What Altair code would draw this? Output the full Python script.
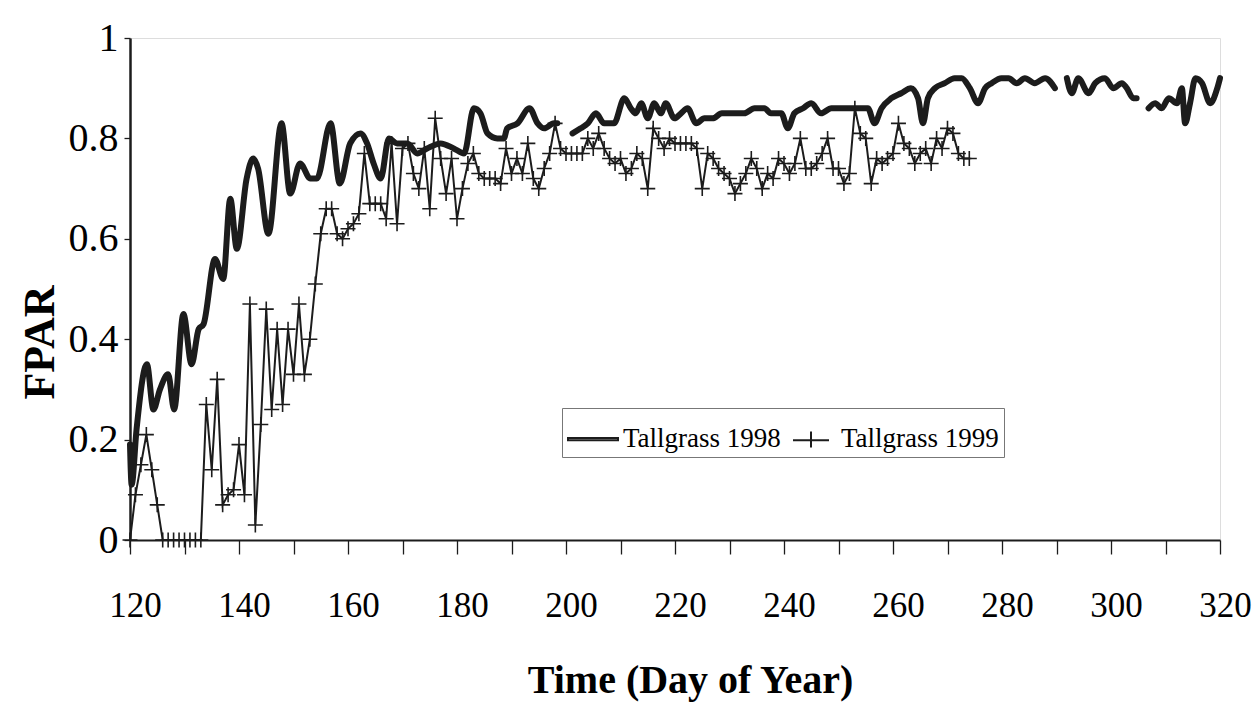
import altair as alt
import pandas as pd

# ---------------- data ----------------
days_1998 = [120.0, 120.3, 121.2, 123.1, 124.3, 125.5, 127.0, 128.1, 129.8, 131.3,
             132.6, 133.5, 135.6, 137.1, 138.4, 139.6, 141.4, 142.6, 143.5, 145.4,
             147.8, 149.4, 151.2, 153.1, 154.3, 156.8, 158.5, 160.4, 162.3, 163.5,
             164.7, 166.0, 167.5, 169.0, 170.9, 172.7, 174.5, 177.0, 179.4, 181.3,
             183.1, 184.3, 185.6, 187.4, 188.6, 189.2, 191.1, 193.3, 194.8, 196.0,
             197.8, 198.4,
             201.2, 202.7, 204.0, 205.5, 207.0, 208.8, 210.7, 211.9, 212.8, 213.8,
             215.0, 216.2, 217.4, 218.3, 219.9, 221.1, 222.3, 223.9, 225.4, 226.9,
             228.6, 231.5, 232.7, 234.6, 236.4, 237.6, 239.5, 240.7, 241.9, 243.5,
             245.0, 246.8, 248.7, 250.5, 252.4, 254.8, 255.4, 256.6, 257.9, 259.7,
             261.5, 263.3, 264.6, 265.5, 266.4, 267.7, 269.5, 271.3, 272.6, 274.1,
             275.6, 276.9, 278.1, 279.9, 281.2, 282.7, 284.2, 286.0, 287.9, 289.7,
             291.9, 292.8, 294.0, 295.9, 297.1, 298.9, 300.4, 302.0, 302.9, 304.1,
             304.7,
             306.9, 308.1, 309.3, 310.6, 312.1, 313.0, 313.6, 314.5, 315.5, 316.7,
             318.2, 319.5, 320.0]
fpar_1998 = [0.19, 0.11, 0.22, 0.35, 0.26, 0.30, 0.33, 0.26, 0.45, 0.35,
             0.42, 0.43, 0.56, 0.52, 0.68, 0.58, 0.72, 0.76, 0.74, 0.61,
             0.83, 0.69, 0.75, 0.72, 0.72, 0.83, 0.71, 0.79, 0.81, 0.79,
             0.75, 0.72, 0.80, 0.79, 0.79, 0.77, 0.78, 0.79, 0.78, 0.77,
             0.86, 0.85, 0.81, 0.80, 0.80, 0.82, 0.83, 0.86, 0.83, 0.82,
             0.83, 0.83,
             0.81, 0.82, 0.83, 0.85, 0.83, 0.83, 0.88, 0.86, 0.85, 0.87,
             0.84, 0.87, 0.85, 0.87, 0.84, 0.85, 0.86, 0.83, 0.84, 0.84,
             0.85, 0.85, 0.85, 0.86, 0.86, 0.85, 0.85, 0.82, 0.85, 0.86,
             0.87, 0.85, 0.86, 0.86, 0.86, 0.86, 0.86, 0.83, 0.86, 0.88,
             0.89, 0.90, 0.88, 0.83, 0.88, 0.90, 0.91, 0.92, 0.92, 0.90,
             0.87, 0.90, 0.91, 0.92, 0.92, 0.91, 0.92, 0.91, 0.92, 0.90,
             0.92, 0.89, 0.92, 0.89, 0.91, 0.92, 0.90, 0.91, 0.90, 0.88,
             0.88,
             0.86, 0.87, 0.86, 0.88, 0.87, 0.90, 0.83, 0.87, 0.92, 0.91,
             0.87, 0.90, 0.92]
gaps_1998 = [199.5, 290.5, 305.5]   # the 1998 line is broken after these days

fpar_1999 = [0.00, 0.09, 0.15, 0.21, 0.14, 0.07, 0.00, 0.00, 0.00, 0.00,   # 120-129
             0.00, 0.00, 0.00, 0.00, 0.27, 0.14, 0.32, 0.07, 0.09, 0.10,   # 130-139
             0.19, 0.09, 0.47, 0.03, 0.23, 0.46, 0.26, 0.42, 0.27, 0.42,   # 140-149
             0.33, 0.47, 0.33, 0.40, 0.51, 0.61, 0.66, 0.66, 0.61, 0.60,   # 150-159
             0.62, 0.63, 0.65, 0.77, 0.67, 0.67, 0.67, 0.64, 0.79, 0.63,   # 160-169
             0.78, 0.79, 0.73, 0.70, 0.78, 0.66, 0.84, 0.76, 0.69, 0.76,   # 170-179
             0.64, 0.70, 0.75, 0.77, 0.73, 0.72, 0.72, 0.72, 0.71, 0.78,   # 180-189
             0.73, 0.76, 0.73, 0.79, 0.72, 0.70, 0.74, 0.77, 0.83, 0.78,   # 190-199
             0.77, 0.77, 0.77, 0.77, 0.80, 0.78, 0.81, 0.78, 0.76, 0.75,   # 200-209
             0.76, 0.73, 0.74, 0.77, 0.76, 0.70, 0.82, 0.80, 0.78, 0.80,   # 210-219
             0.79, 0.79, 0.79, 0.79, 0.78, 0.70, 0.77, 0.76, 0.74, 0.73,   # 220-229
             0.72, 0.69, 0.71, 0.73, 0.76, 0.74, 0.70, 0.73, 0.72, 0.76,   # 230-239
             0.75, 0.73, 0.75, 0.80, 0.74, 0.74, 0.75, 0.77, 0.80, 0.74,   # 240-249
             0.74, 0.71, 0.73, 0.86, 0.81, 0.80, 0.71, 0.76, 0.75, 0.76,   # 250-259
             0.77, 0.83, 0.79, 0.78, 0.75, 0.77, 0.78, 0.75, 0.80, 0.78,   # 260-269
             0.82, 0.81, 0.77, 0.76, 0.76]                                 # 270-274
days_1999 = list(range(120, 120 + len(fpar_1999)))

x_ticks = [120, 130, 140, 150, 160, 170, 180, 190, 200, 210, 220,
           230, 240, 250, 260, 270, 280, 290, 300, 310, 320]
y_ticks = [0, 0.2, 0.4, 0.6, 0.8, 1.0]
series_names = ["Tallgrass 1998", "Tallgrass 1999"]

# ---------------- tables ----------------
df98 = pd.DataFrame({"day": days_1998, "fpar": fpar_1998})
df98["seg"] = [sum(d > g for g in gaps_1998) for d in days_1998]
df99 = pd.DataFrame({"day": days_1999, "fpar": fpar_1999})
leg = pd.DataFrame({"series": series_names})

INK = "#1c1c1c"
SERIF = "Liberation Serif"

x_enc = alt.X(
    "day:Q",
    scale=alt.Scale(domain=[120, 320], nice=False, zero=False),
    axis=alt.Axis(
        values=x_ticks,
        labelExpr="datum.value % 20 == 0 ? datum.label : ''",
        title="Time (Day of Year)",
        labelFont=SERIF, labelFontSize=35, labelColor="black",
        labelPadding=34, labelOffset=5, labelFlush=False,
        tickSize=14, tickColor=INK, tickWidth=1.3,
        domainColor=INK, domainWidth=2,
        titleFont=SERIF, titleFontSize=40, titleFontWeight="bold", titleColor="black",
        titleX=560, titleY=140, titleAlign="center", titleBaseline="middle",
        grid=False,
    ),
)
y_enc = alt.Y(
    "fpar:Q",
    scale=alt.Scale(domain=[0, 1], nice=False),
    axis=alt.Axis(
        values=y_ticks, format=".1~f", title="FPAR",
        labelFont=SERIF, labelFontSize=40, labelColor="black", labelPadding=6,
        tickSize=6, tickColor=INK, tickWidth=1.3,
        domainColor=INK, domainWidth=2.5,
        titleFont=SERIF, titleFontSize=44, titleFontWeight="bold", titleColor="black",
        titleAngle=270, titleX=-90, titleY=304, titleAlign="center", titleBaseline="middle",
        grid=False,
    ),
)

line98 = alt.Chart(df98).mark_line(
    color=INK, strokeWidth=6, interpolate="monotone", strokeJoin="round", strokeCap="round"
).encode(x=x_enc, y=y_enc, detail="seg:N")

line99 = alt.Chart(df99).mark_line(color=INK, strokeWidth=2).encode(x="day:Q", y="fpar:Q")

pts99 = alt.Chart(df99).mark_point(
    shape="M-1,0L1,0M0,-1L0,1", size=225, filled=False, color=INK, strokeWidth=1.6, opacity=1
).encode(x="day:Q", y="fpar:Q")

path98 = "M-1,-0.045L1,-0.045L1,0.045L-1,0.045Z"
path99 = "M-0.72,0.05L0.72,0.05M0,-0.3L0,0.34"

legend_layer = alt.Chart(leg).mark_point(
    filled=False, color=INK, stroke=INK, strokeWidth=2, opacity=0
).encode(
    shape=alt.Shape(
        "series:N",
        scale=alt.Scale(domain=series_names, range=[path98, path99]),
        legend=alt.Legend(
            title=None, orient="none", legendX=432, legendY=370, direction="horizontal",
            symbolSize=2500, symbolOpacity=1, symbolFillColor=INK, symbolStrokeColor=INK,
            symbolStrokeWidth=2,
            labelFont=SERIF, labelFontSize=27, labelColor="black", labelOffset=4,
            labelLimit=0,
            columnPadding=4, padding=5, strokeColor="#777777", fillColor="white",
        ),
    )
)

chart = alt.layer(line98, line99, pts99, legend_layer).properties(
    width=1090, height=502,
    autosize=alt.AutoSizeParams(type="none"),
    padding={"left": 130, "top": 38, "right": 34, "bottom": 181},
).configure_view(stroke=INK, strokeWidth=1.5).configure(background="white")

chart.save("out.html", embed_options={"renderer": "svg", "actions": False})
